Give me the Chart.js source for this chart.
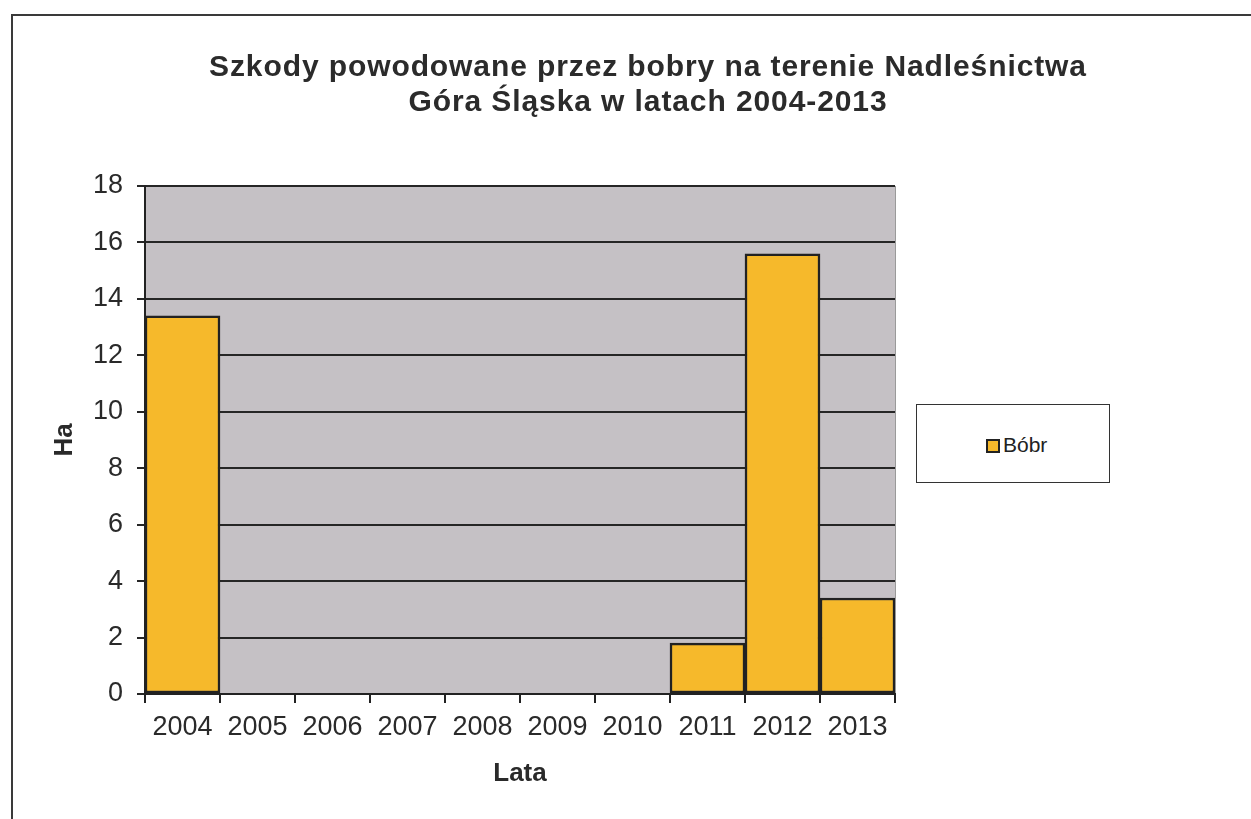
<!DOCTYPE html>
<html lang="pl">
<head>
<meta charset="utf-8">
<title>Szkody powodowane przez bobry</title>
<script src="https://cdn.jsdelivr.net/npm/chart.js@4/dist/chart.umd.min.js"></script>
<style>
  html, body { margin: 0; padding: 0; background: #fff; overflow: hidden; }
  body { width: 1251px; height: 819px; position: relative; font-family: "Liberation Sans", Arial, sans-serif; }
  #frame { position: absolute; left: 11px; top: 14px; width: 1300px; height: 900px; border: 2px solid #3a3a3a; }
  #chart { position: absolute; left: 0; top: 0; }
  #title { position: absolute; left: 148px; top: 48px; width: 1000px; text-align: center;
           font-weight: bold; font-size: 30px; letter-spacing: 0.9px; line-height: 35px; color: #2b2b2b; }
  #legend { position: absolute; left: 916px; top: 404px; width: 192px; height: 77px;
            border: 1.5px solid #333; background: #fff; }
  #legend .item { position: absolute; left: 69px; top: 28px; font-size: 21px; color: #222; line-height: 24px; }
  #legend .box { display: inline-block; width: 10px; height: 10px; border: 2px solid #222;
                 background: #f6b92b; margin-right: 3px; vertical-align: -1px; }
</style>
</head>
<body>
<div id="frame"></div>
<canvas id="chart" width="1251" height="819"></canvas>
<div id="title">Szkody powodowane przez bobry na terenie Nadleśnictwa<br>Góra Śląska w latach 2004-2013</div>
<div id="legend"><div class="item"><span class="box"></span>Bóbr</div></div>
<script>
// Data
const years = ['2004', '2005', '2006', '2007', '2008', '2009', '2010', '2011', '2012', '2013'];
const bobr = [13.4, 0, 0, 0, 0, 0, 0, 1.8, 15.6, 3.4];
const yTicks = [0, 2, 4, 6, 8, 10, 12, 14, 16, 18];

const seriesName = 'Bóbr';
const xTitle = 'Lata';
const yTitle = 'Ha';

// grey plot background, drawn before grid lines
const plotBackground = {
  id: 'plotBackground',
  beforeDraw(chart) {
    const { ctx, chartArea: a } = chart;
    ctx.save();
    ctx.fillStyle = '#c5c1c5';
    ctx.fillRect(a.left, a.top, a.right - a.left, a.bottom - a.top);
    ctx.strokeStyle = '#9a9a9a';
    ctx.lineWidth = 1;
    ctx.beginPath();
    ctx.moveTo(a.right + 0.5, a.top);
    ctx.lineTo(a.right + 0.5, a.bottom);
    ctx.stroke();
    ctx.restore();
  }
};

const font = { family: '"Liberation Sans", Arial, sans-serif', size: 27 };

new Chart(document.getElementById('chart'), {
  type: 'bar',
  data: {
    labels: years,
    datasets: [{
      label: seriesName,
      data: bobr,
      backgroundColor: '#f6b92b',
      borderColor: '#222',
      borderWidth: 2.5,
      borderSkipped: false,
      categoryPercentage: 1,
      barPercentage: 1
    }]
  },
  options: {
    responsive: false,
    animation: false,
    layout: { padding: { left: 0, top: 186, right: 356, bottom: 0 } },
    plugins: {
      legend: { display: false },
      title: { display: false },
      tooltip: { enabled: false }
    },
    scales: {
      x: {
        afterFit(scale) { scale.height = 125; },
        grid: { drawOnChartArea: false, drawTicks: true, tickLength: 9, color: '#222', lineWidth: 2 },
        border: { color: '#222', width: 2 },
        ticks: { color: '#2a2a2a', font: font, padding: 8, maxRotation: 0 },
        title: {
          display: true, text: xTitle, color: '#2a2a2a',
          font: { family: font.family, size: 26, weight: 'bold' },
          padding: { top: 0, bottom: 30 }
        }
      },
      y: {
        min: 0,
        max: 18,
        afterFit(scale) { scale.width = 145; },
        afterBuildTicks(scale) { scale.ticks = yTicks.map(v => ({ value: v })); },
        grid: { color: '#262626', lineWidth: 2, tickLength: 8 },
        border: { color: '#222', width: 2 },
        ticks: { color: '#2a2a2a', font: font, padding: 14 },
        title: {
          display: true, text: yTitle, color: '#2a2a2a',
          font: { family: font.family, size: 26, weight: 'bold' },
          padding: { top: 49, bottom: 0 }
        }
      }
    }
  },
  plugins: [plotBackground]
});
</script>
</body>
</html>
